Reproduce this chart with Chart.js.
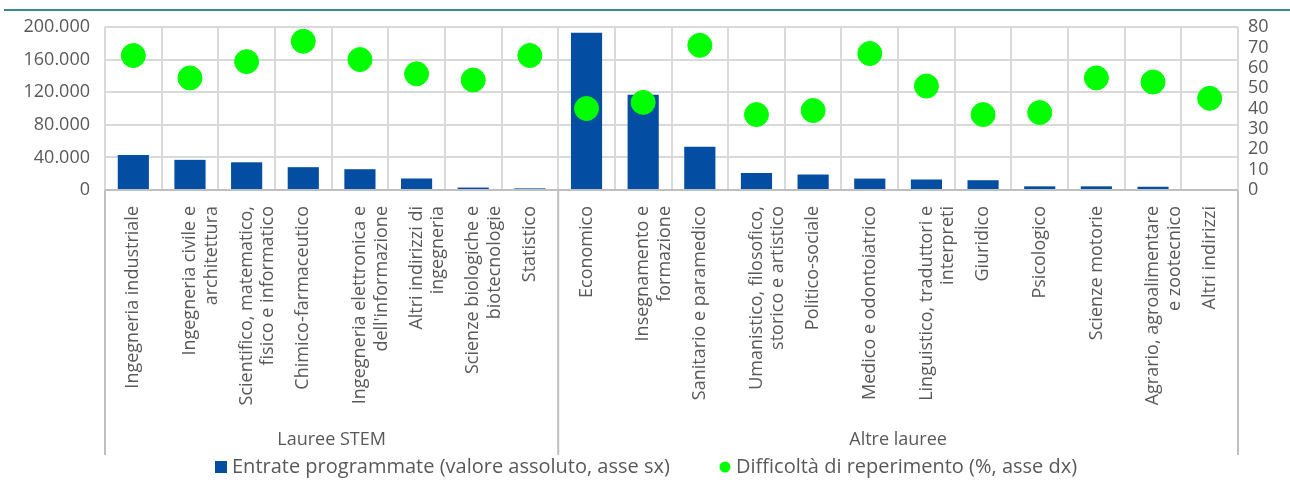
<!DOCTYPE html>
<html>
<head>
<meta charset="utf-8">
<script src="https://cdn.jsdelivr.net/npm/chart.js@4"></script>
<style>
  html, body { margin: 0; padding: 0; background: #fff; }
  #wrap { width: 1290px; height: 480px; position: relative; }
</style>
</head>
<body>
<div id="wrap"><canvas id="grafico"></canvas></div>
<script>
var categorie = [
  'Ingegneria industriale',
  ['Ingegneria civile e', 'architettura'],
  ['Scientifico, matematico,', 'fisico e informatico'],
  'Chimico-farmaceutico',
  ['Ingegneria elettronica e', "dell'informazione"],
  ['Altri indirizzi di', 'ingegneria'],
  ['Scienze biologiche e', 'biotecnologie'],
  'Statistico',
  'Economico',
  ['Insegnamento e', 'formazione'],
  'Sanitario e paramedico',
  ['Umanistico, filosofico,', 'storico e artistico'],
  'Politico-sociale',
  'Medico e odontoiatrico',
  ['Linguistico, traduttori e', 'interpreti'],
  'Giuridico',
  'Psicologico',
  'Scienze motorie',
  ['Agrario, agroalimentare', 'e zootecnico'],
  'Altri indirizzi'
];
var gruppi = ['Lauree STEM', 'Altre lauree'];
var gruppiDim = [8, 12];

var entrate = [43000, 37000, 34000, 28000, 25500, 14000, 3000, 2000,
               193000, 117000, 53000, 21000, 19000, 14000, 13000, 12000, 4500, 4500, 4000, 0];
var difficolta = [66, 55, 63, 73, 64, 57, 54, 66,
                  40, 43, 71, 37, 39, 67, 51, 37, 38, 55, 53, 45];

var tickSx = [0, 40000, 80000, 120000, 160000, 200000];
var tickDx = [0, 10, 20, 30, 40, 50, 60, 70, 80];

var grigio = '#595959';
var font = "'Open Sans', sans-serif";

// linea in alto, riquadri dell'asse a due livelli e legenda
var cornice = {
  id: 'cornice',
  beforeDraw: function(chart) {
    var ctx = chart.ctx;
    ctx.save();
    ctx.strokeStyle = '#3A8798';
    ctx.lineWidth = 2;
    ctx.beginPath();
    ctx.moveTo(4, 10);
    ctx.lineTo(chart.width, 10);
    ctx.stroke();
    ctx.restore();
  },
  afterDraw: function(chart) {
    var ctx = chart.ctx;
    var x = chart.scales.x;
    var area = chart.chartArea;
    var basso = x.bottom;
    var passo = x.getPixelForValue(1) - x.getPixelForValue(0);
    ctx.save();
    ctx.strokeStyle = '#BFBFBF';
    ctx.lineWidth = 2;
    ctx.beginPath();
    ctx.moveTo(area.left, area.bottom);
    ctx.lineTo(area.right, area.bottom);
    var inizio = 0;
    var bordi = [x.getPixelForValue(0) - passo / 2];
    gruppiDim.forEach(function(n) {
      inizio += n;
      bordi.push(x.getPixelForValue(inizio - 1) + passo / 2);
    });
    bordi.forEach(function(b) {
      ctx.moveTo(b, area.bottom);
      ctx.lineTo(b, basso);
    });
    ctx.stroke();
    ctx.fillStyle = grigio;
    ctx.font = '18px ' + font;
    ctx.textAlign = 'center';
    ctx.textBaseline = 'middle';
    gruppi.forEach(function(g, i) {
      ctx.fillText(g, (bordi[i] + bordi[i + 1]) / 2, basso - 15);
    });

    // legenda
    var ds = chart.data.datasets;
    var yl = 467;
    ctx.font = '20px ' + font;
    ctx.textAlign = 'left';
    ctx.fillStyle = ds[1].backgroundColor;
    ctx.fillRect(215, yl - 6, 12, 12);
    ctx.fillStyle = grigio;
    ctx.fillText(ds[1].label, 232, yl);
    ctx.fillStyle = ds[0].backgroundColor;
    ctx.beginPath();
    ctx.arc(725, yl, 5.5, 0, Math.PI * 2);
    ctx.fill();
    ctx.fillStyle = grigio;
    ctx.fillText(ds[0].label, 736, yl);
    ctx.restore();
  }
};

new Chart(document.getElementById('grafico'), {
  type: 'bar',
  data: {
    labels: categorie,
    datasets: [
      {
        type: 'line',
        label: 'Difficoltà di reperimento (%, asse dx)',
        data: difficolta,
        yAxisID: 'y2',
        showLine: false,
        pointRadius: 12,
        pointHoverRadius: 12,
        pointBackgroundColor: '#00FF00',
        pointBorderColor: '#00FF00',
        backgroundColor: '#00FF00',
        borderColor: '#00FF00',
        order: 0
      },
      {
        label: 'Entrate programmate (valore assoluto, asse sx)',
        data: entrate,
        yAxisID: 'y',
        backgroundColor: '#034EA2',
        barPercentage: 0.55,
        categoryPercentage: 1,
        order: 1
      }
    ]
  },
  options: {
    responsive: true,
    maintainAspectRatio: false,
    animation: false,
    layout: { padding: { top: 27, left: 0, right: 0, bottom: 25 } },
    plugins: {
      tooltip: { enabled: false },
      legend: { display: false }
    },
    scales: {
      x: {
        grid: { color: '#D9D9D9', lineWidth: 2, drawTicks: false, offset: true },
        border: { display: false },
        ticks: {
          color: grigio,
          font: { family: font, size: 18, lineHeight: 1.2 },
          minRotation: 90,
          maxRotation: 90,
          autoSkip: false,
          padding: 16
        },
        afterFit: function(scale) { scale.height = 265; }
      },
      y: {
        position: 'left',
        min: 0,
        max: 200000,
        afterBuildTicks: function(scale) {
          scale.ticks = tickSx.map(function(v) { return { value: v }; });
        },
        grid: { color: '#D9D9D9', lineWidth: 2, drawTicks: false },
        border: { display: false },
        ticks: {
          color: grigio,
          font: { family: font, size: 18 },
          padding: 15,
          callback: function(v) { return v.toLocaleString('it-IT').replace(/\s/g, '.'); }
        },
        afterFit: function(scale) { scale.width = 105; }
      },
      y2: {
        position: 'right',
        min: 0,
        max: 80,
        afterBuildTicks: function(scale) {
          scale.ticks = tickDx.map(function(v) { return { value: v }; });
        },
        grid: { display: false, drawTicks: false },
        border: { display: false },
        ticks: {
          autoSkip: false,
          color: grigio,
          font: { family: font, size: 18 },
          padding: 10
        },
        afterFit: function(scale) { scale.width = 52; }
      }
    }
  },
  plugins: [cornice]
});
</script>
</body>
</html>
